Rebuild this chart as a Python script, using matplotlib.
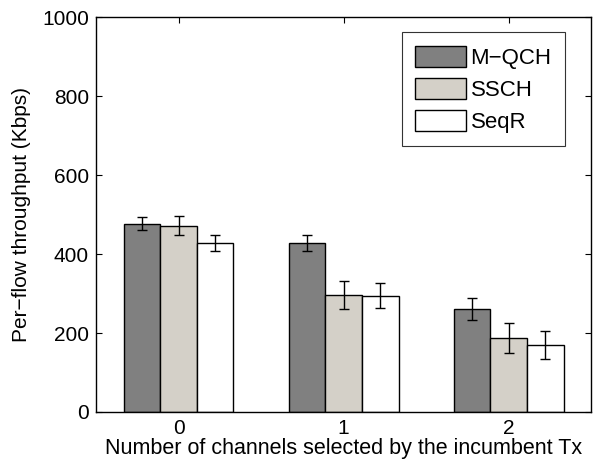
import matplotlib
matplotlib.use("Agg")
import matplotlib.pyplot as plt
import numpy as np

plt.rcParams['font.family'] = ['Liberation Sans', 'DejaVu Sans']

categories = ["0", "1", "2"]
series_names = ["M\u2212QCH", "SSCH", "SeqR"]
mqch = [477, 429, 261]
ssch = [472, 296, 187]
seqr = [429, 295, 170]
mqch_err = [17, 20, 28]
ssch_err = [24, 35, 38]
seqr_err = [20, 32, 36]

values = [mqch, ssch, seqr]
errors = [mqch_err, ssch_err, seqr_err]
colors = ["#808080", "#d4d0c8", "#ffffff"]

fig = plt.figure(figsize=(5.98, 4.65), dpi=100)
ax = fig.add_axes([0.1605, 0.114, 0.828, 0.849])

x = np.arange(len(categories))
width = 0.222
for i, (vals, errs, col, name) in enumerate(zip(values, errors, colors, series_names)):
    pos = x + (i - 1) * width
    ax.bar(pos, vals, width, color=col, edgecolor="black", linewidth=1.0, label=name, zorder=2)
    ax.errorbar(pos, vals, yerr=errs, fmt="none", ecolor="black", elinewidth=1.0,
                capsize=3.5, capthick=1.0, zorder=3)

ax.set_xlim(-0.5, 2.5)
ax.set_ylim(0, 1000)
ax.set_xticks(x)
ax.set_xticklabels(categories)
ax.set_yticks([0, 200, 400, 600, 800, 1000])
ax.tick_params(direction="in", length=4, width=0.8, labelsize=15, top=True, right=True, pad=5)
for s in ax.spines.values():
    s.set_linewidth(1.0)

ax.set_xlabel("Number of channels selected by the incumbent Tx", fontsize=15.5, labelpad=0)
ax.set_ylabel("Per\u2212flow throughput (Kbps)", fontsize=15, labelpad=8)

leg = ax.legend(loc="upper right", bbox_to_anchor=(0.947, 0.962), fontsize=16, fancybox=False,
                edgecolor="#333333", framealpha=1, handlelength=2.3, handleheight=1.1,
                handletextpad=0.2, labelspacing=0.4, borderpad=0.6, borderaxespad=0.0)
leg.get_frame().set_linewidth(0.8)

fig.savefig("out.png", dpi=100)
